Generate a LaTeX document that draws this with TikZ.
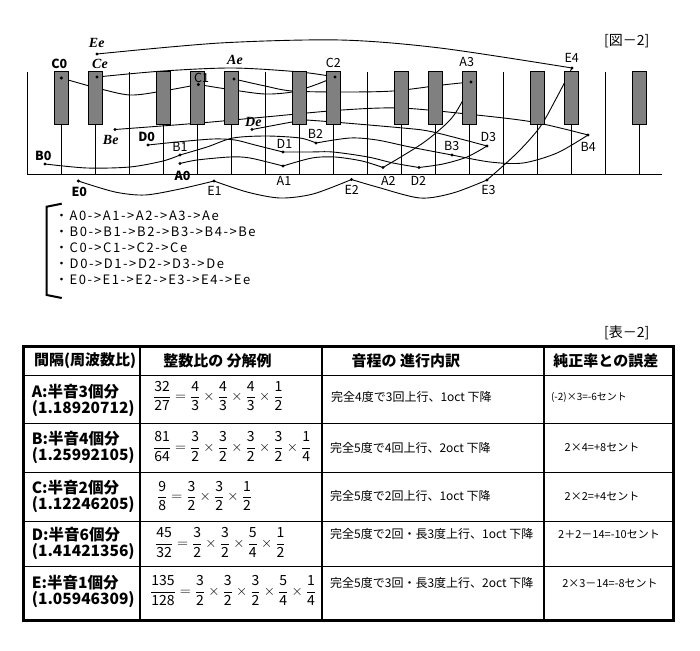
\documentclass[tikz,border=0pt]{standalone}
\usepackage{fontspec}
\setmainfont{Noto Sans CJK JP}
\newfontfamily\bifont{Liberation Serif}
\newfontfamily\listfont{Noto Sans CJK JP}[LetterSpace=12]
\newcommand\ratiofrac[2]{\frac{\hbox{#1}}{\hbox{#2}}}
\usetikzlibrary{positioning}
\begin{document}
\begin{tikzpicture}[x=1pt, y=-1pt,
		every node/.style = {inner sep=0pt},
		tie/.style = {line width=0.9pt},
		keyline/.style = {line width=1pt},
		blackkey/.style = {draw, line width=1pt, fill=black!50},
		tone/.style = {font=\fontsize{12.5}{13}\selectfont},
		basetone/.style = {font=\bfseries\fontsize{12.5}{13}\selectfont},
		endtone/.style = {font=\bifont\bfseries\itshape\fontsize{14}{14}\selectfont},
		caption/.style = {font=\fontsize{14}{14}\selectfont},
		head/.style = {font=\bfseries\fontsize{15}{16}\selectfont},
		gap/.style = {anchor=west, align=left, font=\bfseries\fontsize{15.5}{14.5}\selectfont},
		ratio/.style = {anchor=west, font=\fontsize{14}{17}\selectfont},
		steps/.style = {anchor=west, font=\fontsize{12}{13}\selectfont},
		cents/.style = {font=\fontsize{11}{12}\selectfont}]
	\useasboundingbox (0,0) rectangle (700,650);
	\foreach \n/\x/\y in {A0/180/163.5, A1/283/166, A2/383/167.5, A3/471/82, Ae/234/79,
			B0/45/164, B1/180/155, B2/316/143, B3/452/155, B4/588/135, Be/115/129.5,
			C0/61.3/78, C1/198.3/84.5, C2/335/77, Ce/97/77,
			D0/148/145, D1/283/152, D2/419/167.5, D3/487/146, De/252/129.5,
			E0/78.3/181, E1/214/181, E2/351.5/179.5, E3/487/180, E4/572/68, Ee/97/54}
		\coordinate (\n) at (\x,\y);
	\draw[tie] plot[smooth] coordinates {(A0) (197,160) (230,157) (250,158) (A1)};
	\draw[tie] plot[smooth] coordinates {(A1) (312,158) (335,157) (362,161) (A2)};
	\draw[tie] plot[smooth] coordinates {(A2) (423,143) (450,120) (463,100) (A3)};
	\draw[tie] plot[smooth] coordinates {(A3) (442,85) (393,91) (342,92) (292,91) (265,86) (Ae)};
	\draw[tie] plot[smooth] coordinates {(B0) (87,168) (130,167) (163,161) (B1)};
	\draw[tie] plot[smooth] coordinates {(B1) (207,147) (233,138) (266,136) (300,138) (B2)};
	\draw[tie] plot[smooth] coordinates {(B2) (350,138) (377,140) (410,147) (B3)};
	\draw[tie] plot[smooth] coordinates {(B3) (490,162) (523,163) (557,153) (B4)};
	\draw[tie] plot[smooth] coordinates {(B4) (533,122) (467,114) (400,108) (342,110) (265,117) (200,123) (Be)};
	\draw[tie] plot[smooth] coordinates {(C0) (97,88) (130,95) (163,91) (C1)};
	\draw[tie] plot[smooth] coordinates {(C1) (233,90) (265,94) (292,92) (315,85) (C2)};
	\draw[tie] plot[smooth] coordinates {(C2) (300,72) (233,68) (163,71) (Ce)};
	\draw[tie] plot[smooth] coordinates {(D0) (177,142) (213,139) (235,140) (255,145) (D1)};
	\draw[tie] plot[smooth] coordinates {(D1) (310,152) (333,152) (368,157) (393,163) (D2)};
	\draw[tie] plot[smooth] coordinates {(D2) (443,164) (467,157) (D3)};
	\draw[tie] plot[smooth] coordinates {(D3) (433,132) (403,128) (306,120) (292,122) (De)};
	\draw[tie] plot[smooth] coordinates {(E0) (115,192) (145,195) (180,189) (E1)};
	\draw[tie] plot[smooth] coordinates {(E1) (247,192) (280,198) (313,194) (E2)};
	\draw[tie] plot[smooth] coordinates {(E2) (377,187) (420,198) (453,193) (E3)};
	\draw[tie] plot[smooth] coordinates {(E3) (517,153) (540,127) (557,97) (E4)};
	\draw[tie] plot[smooth] coordinates {(E4) (440,48) (340,40) (220,43) (Ee)};
	\foreach \k in {0,...,18}
		\draw[keyline] (27.3+34*\k,72) -- (27.3+34*\k,174);
	\draw[keyline] (27.3,174) -- (662,174);
	\foreach \k in {1,2,4,5,6,8,9,11,12,13,15,16,18}
		\draw[blackkey] (20+34*\k,72) rectangle (34.6+34*\k,124.3);
	\foreach \n in {A0,A1,A2,A3,Ae,B0,B1,B2,B3,B4,Be,C0,C1,C2,Ce,D0,D1,D2,D3,De,E0,E1,E2,E3,E4,Ee}
		\fill (\n) circle (1.7);
	\foreach \n/\x/\y in {C1/201.7/77.7, C2/333.3/63.3, A1/284/181, A2/388.3/181, A3/466.7/62.3,
			B1/180/146.7, B2/315.5/133.5, B3/451.7/145.5, B4/588.3/146.7,
			D1/284.5/143.5, D2/418.3/181, D3/488.3/136.7,
			E1/214.5/191.3, E2/351.7/189.5, E3/488.5/190, E4/571.7/58.3}
		\node[tone] (l\n) at (\x,\y) {\n};
	\foreach \n/\x/\y in {A0/182.5/176, B0/43.3/156, C0/59.3/64.3, D0/146.7/136.5, E0/79.3/191.7}
		\node[basetone] (l\n) at (\x,\y) {\n};
	\foreach \n/\x/\y in {Ae/235/60, Be/110.7/140, Ce/100/64.3, De/253.3/121.5, Ee/96.7/43.3}
		\node[endtone] (l\n) at (\x,\y) {\n};
	\node[caption] (fig) at (626.7,40.7) {[図－2]};
	\draw[line width=2pt] (61.7,203.7) -- (46.7,206.7) -- (46.7,295) -- (61.7,298);
	\node[anchor=north west, align=left, font=\listfont\fontsize{13}{16}\selectfont] (chains) at (55,211)
		{・A0->A1->A2->A3->Ae\\・B0->B1->B2->B3->B4->Be\\・C0->C1->C2->Ce\\・D0->D1->D2->D3->De\\・E0->E1->E2->E3->E4->Ee};
	\node[caption] (tab) at (626.7,333.3) {[表－2]};
	\foreach \y in {375,423.3,472.5,521.7,566.7}
		\draw[line width=1pt] (23.3,\y) -- (673.3,\y);
	\foreach \x in {140.3,321.7,544}
		\draw[line width=2pt] (\x,346.7) -- (\x,620);
	\draw[line width=3pt] (23.3,346.7) rectangle (673.3,620);
	\node[head] (hGap) at (85,361) {間隔(周波数比)};
	\node[head] (hRatio) at (217.5,361) {整数比の 分解例};
	\node[head] (hSteps) at (405.8,361) {音程の 進行内訳};
	\node[head] (hCents) at (605.8,361) {純正率との誤差};
	\node[gap] (gapA) at (31.7,400.5) {A:半音3個分\\(1.18920712)};
	\node[gap] (gapB) at (31.7,447.2) {B:半音4個分\\(1.25992105)};
	\node[gap] (gapC) at (31.7,496.7) {C:半音2個分\\(1.12246205)};
	\node[gap] (gapD) at (31.7,543.3) {D:半音6個分\\(1.41421356)};
	\node[gap] (gapE) at (31.7,591.7) {E:半音1個分\\(1.05946309)};
	\node[ratio] (ratA) at (153,396) {$\displaystyle\ratiofrac{32}{27}=\ratiofrac{4}{3}\times\ratiofrac{4}{3}\times\ratiofrac{4}{3}\times\ratiofrac{1}{2}$};
	\node[ratio] (ratB) at (153,446.7) {$\displaystyle\ratiofrac{81}{64}=\ratiofrac{3}{2}\times\ratiofrac{3}{2}\times\ratiofrac{3}{2}\times\ratiofrac{3}{2}\times\ratiofrac{1}{4}$};
	\node[ratio] (ratC) at (157,496) {$\displaystyle\ratiofrac{9}{8}=\ratiofrac{3}{2}\times\ratiofrac{3}{2}\times\ratiofrac{1}{2}$};
	\node[ratio] (ratD) at (155,542.7) {$\displaystyle\ratiofrac{45}{32}=\ratiofrac{3}{2}\times\ratiofrac{3}{2}\times\ratiofrac{5}{4}\times\ratiofrac{1}{2}$};
	\node[ratio] (ratE) at (150,590.7) {$\displaystyle\ratiofrac{135}{128}=\ratiofrac{3}{2}\times\ratiofrac{3}{2}\times\ratiofrac{3}{2}\times\ratiofrac{5}{4}\times\ratiofrac{1}{4}$};
	\node[steps] (stepA) at (331,397.3) {完全4度で3回上行、1oct 下降};
	\node[steps] (stepB) at (330,447.7) {完全5度で4回上行、2oct 下降};
	\node[steps] (stepC) at (330,496) {完全5度で2回上行、1oct 下降};
	\node[steps] (stepD) at (330,534) {完全5度で2回・長3度上行、1oct 下降};
	\node[steps] (stepE) at (330,583.3) {完全5度で3回・長3度上行、2oct 下降};
	\node[cents, font=\fontsize{10}{11}\selectfont] (centA) at (589,397.3) {(-2)×3=-6セント};
	\node[cents] (centB) at (602,447.7) {2×4=+8セント};
	\node[cents] (centC) at (602,496) {2×2=+4セント};
	\node[cents] (centD) at (609,534) {2＋2－14=-10セント};
	\node[cents] (centE) at (610,583.3) {2×3－14=-8セント};
\end{tikzpicture}
\end{document}
